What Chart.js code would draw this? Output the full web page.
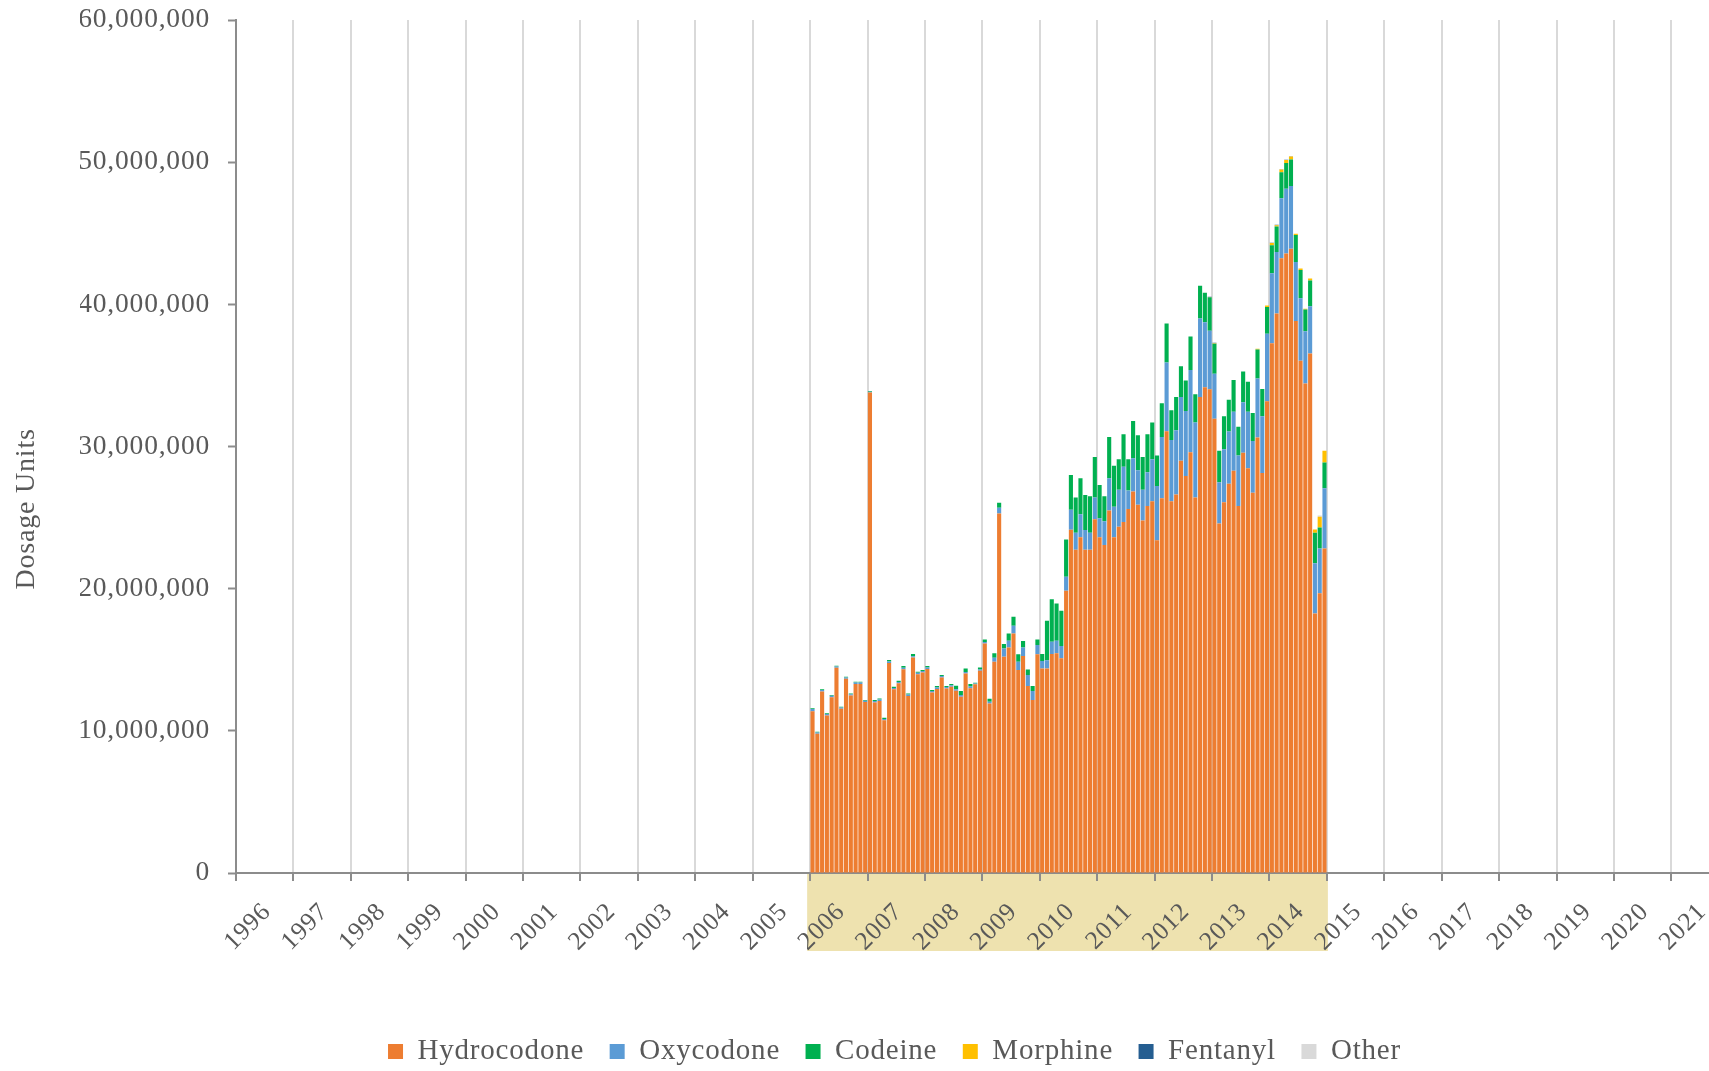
<!DOCTYPE html>
<html>
<head>
<meta charset="utf-8">
<script src="https://cdn.jsdelivr.net/npm/chart.js@4.4.1/dist/chart.umd.min.js"></script>
<style>
  html, body { margin: 0; padding: 0; background: #fff; }
  #wrap { width: 1709px; height: 1071px; }
</style>
</head>
<body>
<div id="wrap"><canvas id="dosageChart"></canvas></div>
<script>
// monthly dosage units (millions), Jan 2006 .. Dec 2014, one row per year
const firstYear = 2006;
const axisFirstYear = 1996;
const axisLastYear = 2021;
const bandYears = [2006, 2015];
const yTickStep = 10000000;
const yMax = 60000000;

const hydrocodone = [
    11.38, 9.79, 12.77, 11.08, 12.37, 14.43, 11.55, 13.66, 12.48, 13.30, 13.30, 12.02,
    33.80, 11.99, 12.10, 10.74, 14.78, 12.92, 13.34, 14.34, 12.45, 15.15, 13.98, 14.10,
    14.35, 12.70, 12.95, 13.75, 12.98, 13.10, 12.82, 12.40, 14.04, 12.99, 13.27, 14.23,
    16.15, 11.93, 14.86, 25.29, 15.21, 15.87, 16.85, 14.28, 15.26, 13.15, 12.17, 15.38,
    14.39, 14.39, 15.40, 15.45, 15.10, 19.85, 24.15, 22.73, 23.62, 22.73, 22.73, 24.88,
    23.62, 23.08, 25.50, 23.62, 24.35, 24.69, 25.60, 26.84, 25.90, 24.80, 25.82, 26.15,
    23.40, 26.36, 31.07, 26.15, 26.63, 29.00, 27.92, 29.59, 26.41, 33.49, 34.16, 34.03,
    31.96, 24.59, 26.08, 27.38, 28.30, 25.81, 29.56, 28.47, 26.74, 30.63, 28.14, 33.19,
    37.27, 39.36, 43.25, 43.58, 43.91, 38.83, 36.04, 34.44, 36.54, 18.26, 19.67, 22.83
];
const oxycodone = [
    0.15, 0.10, 0.10, 0.10, 0.10, 0.10, 0.10, 0.10, 0.10, 0.10, 0.10, 0.10,
    0.05, 0.10, 0.10, 0.10, 0.10, 0.10, 0.10, 0.10, 0.10, 0.10, 0.10, 0.10,
    0.10, 0.10, 0.10, 0.10, 0.10, 0.10, 0.10, 0.12, 0.10, 0.12, 0.06, 0.08,
    0.10, 0.12, 0.28, 0.40, 0.59, 0.47, 0.54, 0.58, 0.61, 0.77, 0.63, 0.65,
    0.52, 0.57, 0.87, 0.89, 0.86, 0.99, 1.40, 1.21, 1.61, 1.40, 1.21, 1.53,
    1.34, 1.67, 2.26, 2.15, 2.60, 3.88, 1.30, 2.34, 2.43, 2.15, 2.37, 2.96,
    3.82, 4.31, 4.84, 4.30, 4.52, 4.49, 4.58, 5.79, 5.28, 5.52, 4.58, 4.12,
    3.15, 2.89, 3.72, 3.68, 4.15, 3.56, 3.56, 3.98, 3.65, 4.15, 3.98, 4.74,
    4.92, 4.32, 4.21, 4.55, 4.42, 4.15, 4.38, 3.66, 3.32, 3.52, 3.16, 4.24
];
const codeine = [
    0.05, 0.05, 0.05, 0.05, 0.05, 0.05, 0.05, 0.05, 0.05, 0.05, 0.05, 0.05,
    0.05, 0.08, 0.08, 0.08, 0.10, 0.08, 0.08, 0.12, 0.08, 0.15, 0.08, 0.08,
    0.11, 0.07, 0.10, 0.07, 0.07, 0.09, 0.25, 0.28, 0.25, 0.18, 0.05, 0.15,
    0.18, 0.20, 0.31, 0.35, 0.30, 0.51, 0.64, 0.52, 0.45, 0.40, 0.35, 0.40,
    0.49, 2.78, 2.98, 2.62, 2.49, 2.62, 2.44, 2.47, 2.53, 2.45, 2.56, 2.86,
    2.34, 1.75, 2.91, 2.88, 2.16, 2.29, 2.21, 2.62, 2.47, 2.32, 2.67, 2.58,
    2.15, 2.37, 2.75, 2.10, 2.34, 2.16, 2.15, 2.36, 1.99, 2.29, 2.07, 2.34,
    2.12, 2.22, 2.32, 2.23, 2.23, 2.02, 2.15, 2.10, 1.97, 2.05, 1.93, 1.89,
    1.97, 1.79, 1.83, 1.82, 1.86, 1.89, 2.00, 1.54, 1.81, 2.15, 1.48, 1.80
];
const morphine = [
    0, 0, 0, 0, 0, 0, 0, 0, 0, 0, 0, 0,
    0, 0, 0, 0, 0, 0, 0, 0, 0, 0, 0, 0,
    0, 0, 0, 0, 0, 0, 0, 0, 0, 0, 0, 0,
    0, 0, 0, 0, 0, 0, 0, 0, 0, 0, 0, 0,
    0, 0, 0, 0, 0, 0, 0, 0, 0, 0, 0, 0,
    0, 0, 0, 0, 0, 0, 0, 0, 0, 0, 0, 0,
    0, 0, 0, 0, 0, 0, 0, 0, 0, 0, 0, 0.03,
    0.04, 0, 0, 0, 0, 0, 0, 0, 0, 0.04, 0, 0.10,
    0.15, 0.10, 0.20, 0.20, 0.20, 0.10, 0.10, 0.05, 0.15, 0.24, 0.75, 0.83
];
const fentanyl = [
    0, 0, 0, 0, 0, 0, 0, 0, 0, 0, 0, 0,
    0, 0, 0, 0, 0, 0, 0, 0, 0, 0, 0, 0,
    0, 0, 0, 0, 0, 0, 0, 0, 0, 0, 0, 0,
    0, 0, 0, 0, 0, 0, 0, 0, 0, 0, 0, 0,
    0, 0, 0, 0, 0, 0, 0, 0, 0, 0, 0, 0,
    0, 0, 0, 0, 0, 0, 0, 0, 0, 0, 0, 0,
    0, 0, 0, 0, 0, 0, 0, 0, 0, 0, 0, 0.02,
    0.02, 0, 0, 0, 0, 0, 0, 0, 0, 0, 0, 0,
    0.02, 0.02, 0.02, 0.02, 0.02, 0, 0, 0, 0, 0, 0, 0
];
const other = [
    0, 0, 0, 0, 0, 0, 0, 0, 0, 0, 0, 0,
    0, 0, 0, 0, 0, 0, 0, 0, 0, 0, 0, 0,
    0, 0, 0, 0, 0, 0, 0, 0, 0, 0, 0, 0,
    0, 0, 0, 0, 0, 0, 0, 0, 0, 0, 0, 0,
    0, 0, 0, 0, 0, 0, 0, 0, 0, 0, 0, 0,
    0, 0, 0, 0, 0, 0, 0, 0, 0, 0, 0, 0,
    0, 0, 0, 0, 0, 0, 0, 0, 0, 0, 0, 0,
    0, 0, 0, 0, 0, 0, 0, 0, 0, 0, 0, 0,
    0, 0, 0, 0, 0, 0, 0, 0, 0, 0, 0.08, 0
];

const seriesNames = ['Hydrocodone', 'Oxycodone', 'Codeine', 'Morphine', 'Fentanyl', 'Other'];
const seriesColors = ['#ED7D31', '#5B9BD5', '#00B050', '#FFC000', '#255E91', '#D9D9D9'];
const seriesValues = [hydrocodone, oxycodone, codeine, morphine, fentanyl, other];

const textColor = '#595959';
const fontFamily = '"Liberation Serif", "DejaVu Serif", serif';
const letterSpacing = '0.8px';

// bar centre sits in the middle of its month
function toPoints(values) {
    return values.map((v, i) => ({ x: firstYear + (i + 0.5) / 12, y: v * 1000000 }));
}

// shaded strip under the x axis for the years with data
const bandPlugin = {
    id: 'yearBand',
    beforeDraw(chart) {
        const { ctx, chartArea } = chart;
        const x = chart.scales.x;
        const left = x.getPixelForValue(bandYears[0]) - 3;
        const right = x.getPixelForValue(bandYears[1]) + 1;
        ctx.save();
        ctx.fillStyle = '#EEE2AF';
        ctx.fillRect(left, chartArea.bottom, right - left, 78);
        ctx.restore();
    }
};

const spacingPlugin = {
    id: 'letterSpacing',
    beforeLayout(chart) { chart.ctx.letterSpacing = letterSpacing; },
    beforeDraw(chart) { chart.ctx.letterSpacing = letterSpacing; }
};

const ctx = document.getElementById('dosageChart').getContext('2d');
new Chart(ctx, {
    type: 'bar',
    data: {
        datasets: seriesValues.map((values, i) => ({
            label: seriesNames[i],
            data: toPoints(values),
            backgroundColor: seriesColors[i],
            borderWidth: 0,
            barPercentage: 0.86,
            categoryPercentage: 1
        }))
    },
    options: {
        responsive: true,
        maintainAspectRatio: false,
        animation: false,
        devicePixelRatio: 1,
        layout: {
            padding: { top: 20, left: 80, right: 0, bottom: -5 }
        },
        scales: {
            x: {
                type: 'linear',
                stacked: true,
                offset: false,
                min: axisFirstYear,
                max: axisLastYear + 0.65,
                grid: {
                    offset: false,
                    color: '#D9D9D9',
                    lineWidth: 2,
                    tickLength: 8,
                    tickColor: '#8C8C8C',
                    tickWidth: 2
                },
                border: { color: '#8C8C8C', width: 2 },
                afterBuildTicks: scale => {
                    scale.ticks = scale.ticks.filter(t => Number.isInteger(t.value));
                },
                afterFit: scale => { scale.height = 138.5; },
                ticks: {
                    stepSize: 1,
                    includeBounds: false,
                    autoSkip: false,
                    minRotation: 45,
                    maxRotation: 45,
                    labelOffset: 31,
                    padding: 16,
                    color: textColor,
                    font: { family: fontFamily, size: 25.5 },
                    callback: value => String(value)
                }
            },
            y: {
                stacked: true,
                min: 0,
                max: yMax,
                grid: {
                    drawOnChartArea: false,
                    tickLength: 8,
                    tickColor: '#8C8C8C',
                    tickWidth: 2
                },
                border: { color: '#8C8C8C', width: 2 },
                afterFit: scale => {
                    scale.width = 156;
                    scale.paddingTop = 10;
                    scale.paddingBottom = 10;
                },
                ticks: {
                    stepSize: yTickStep,
                    padding: 18,
                    color: textColor,
                    font: { family: fontFamily, size: 27.5 },
                    callback: value => value.toLocaleString('en-US')
                },
                title: {
                    display: true,
                    text: 'Dosage Units                ',
                    color: textColor,
                    font: { family: fontFamily, size: 28 },
                    padding: { top: -70, bottom: 0 }
                }
            }
        },
        plugins: {
            legend: {
                position: 'bottom',
                labels: {
                    boxWidth: 15,
                    boxHeight: 15,
                    padding: 25.5,
                    color: textColor,
                    font: { family: fontFamily, size: 29 }
                }
            },
            tooltip: { enabled: false }
        }
    },
    plugins: [bandPlugin, spacingPlugin]
});
</script>
</body>
</html>
